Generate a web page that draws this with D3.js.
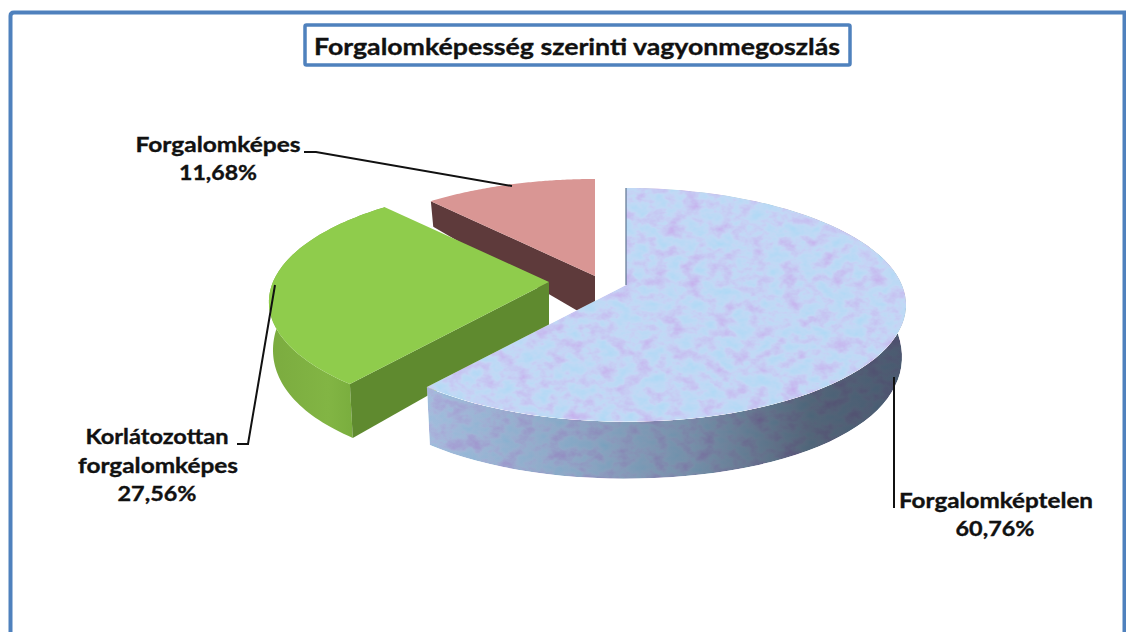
<!DOCTYPE html>
<html><head><meta charset="utf-8">
<script src="https://cdn.jsdelivr.net/npm/d3@7"></script>
<style>html,body{margin:0;padding:0;background:#fff;overflow:hidden}
text{font-family:Lato,"Open Sans",sans-serif;font-weight:700;fill:#111;stroke:#111;stroke-width:0.35px}</style>
</head><body><svg id="c" width="1126" height="632"></svg>
<script>
// ---- data ----
const categories = ["Forgalomképtelen","Korlátozottan forgalomképes","Forgalomképes"];
const values = [60.76,27.56,11.68];
const titleText = "Forgalomképesség szerinti vagyonmegoszlás";

// ---- layout ----
const centers = [[626,285],[549,282],[595,276]];
const depths = [49,45,45];
const R = 276, Ry = 113.5, k = 0.17;   // top disc
const Rb = 272, Ryb = 134, kb = 0.074; // bottom disc
const blue = "#4f81bd";

const svg = d3.select("#c");
const defs = svg.append("defs");

const f = defs.append("filter").attr("id","mottle")
  .attr("x","0").attr("y","0").attr("width","1").attr("height","1")
  .attr("color-interpolation-filters","sRGB");
f.append("feTurbulence").attr("type","fractalNoise").attr("baseFrequency","0.06 0.08")
  .attr("numOctaves",4).attr("seed",7).attr("result","n");
f.append("feColorMatrix").attr("in","n").attr("type","matrix")
  .attr("values","0.28 0 0 0 0.85  -0.4 0 0 0 1.18  -0.08 0 0 0 1.04  0 0 0 0 1").attr("result","tint");
f.append("feBlend").attr("in","SourceGraphic").attr("in2","tint").attr("mode","multiply").attr("result","b");
f.append("feComposite").attr("in","b").attr("in2","SourceAlpha").attr("operator","in");

function grad(id,stops){
  const g = defs.append("linearGradient").attr("id",id);
  stops.forEach(s=>g.append("stop").attr("offset",s[0]).attr("stop-color",s[1]));
}
grad("blueSide",[[0,"#a8bcdc"],[0.3,"#92a8c6"],[0.55,"#7a8fa9"],[0.8,"#566579"],[1,"#4d5a70"]]);
grad("greenSide",[[0,"#7bab3f"],[0.5,"#82b544"],[1,"#6ea335"]]);

const arcs = d3.pie().sort(null).value(d=>d)(values);
const line = d3.line();
const topPt = (c,a)=>{const u=Math.sin(a),v=-Math.cos(a),s=1/(1-k*v);return [c[0]+u*R*s,c[1]+v*Ry*s];};
const botPt = (c,a,dp)=>{const u=Math.sin(a),v=-Math.cos(a),s=1/(1-k*v),t=1/(1-kb*v);return [c[0]+u*Rb*s,c[1]+dp+v*Ryb*t];};
const sample = (a0,a1)=>d3.range(0,81).map(i=>a0+(a1-a0)*i/80);

function drawSlice(i,topFill,sideFill,wallFill,filter){
  const d=arcs[i], c=centers[i], dp=depths[i], as=sample(d.startAngle,d.endAngle);
  const g=svg.append("g").datum(d);
  if(sideFill){
    const pts=as.map(a=>topPt(c,a)).concat(as.slice().reverse().map(a=>botPt(c,a,dp)));
    g.append("path").attr("d",line(pts)+"Z").attr("fill",sideFill).attr("filter",filter||null);
  }
  if(wallFill){
    const a=d.startAngle;
    g.append("path").attr("d",line([c,topPt(c,a),botPt(c,a,dp),[c[0],c[1]+dp]])+"Z").attr("fill",wallFill);
  }
  g.append("path").attr("d",line([c].concat(as.map(a=>topPt(c,a))))+"Z").attr("fill",topFill).attr("filter",filter||null);
}
drawSlice(2,"#d99694",null,"#5e3a3b");
drawSlice(1,"#8fcc4c","url(#greenSide)","#5f8a2f");
drawSlice(0,"#c6d9f5","url(#blueSide)",null,"url(#mottle)");
// thin shadowed edge of the main slice
svg.append("path").attr("d",line([topPt(centers[0],0),centers[0]])).attr("stroke","#5d7390").attr("stroke-width",1.2).attr("fill","none");

// frame
svg.append("path").attr("d","M1124.5,632V12.5H14Q10.5,12.5 10.5,16V632").attr("fill","none").attr("stroke",blue).attr("stroke-width",4);
svg.append("rect").attr("x",305).attr("y",25).attr("width",545).attr("height",40).attr("rx",1.5)
  .attr("fill","#fff").attr("stroke",blue).attr("stroke-width",3.5);

// leaders
const leaders=[[[304,152],[316,152],[512,186]],[[237,444],[248,444],[275,285]],[[894,377],[894,508]]];
svg.selectAll("path.leader").data(leaders).join("path").attr("class","leader")
  .attr("d",d=>line(d)).attr("fill","none").attr("stroke","#111").attr("stroke-width",2);

// text
const labels=[
 [titleText,577,55,526,23],
 ["Forgalomképes",218,152,165,20.5],
 ["11,68%",218,180,78,20.5],
 ["Korlátozottan",157,444,143,20.5],
 ["forgalomképes",158,473,160,20.5],
 ["27,56%",157,501,79,20.5],
 ["Forgalomképtelen",996,508,194,20.5],
 ["60,76%",995,536,79,20.5]];
svg.selectAll("text").data(labels).join("text")
  .attr("x",d=>d[1]-d[3]/2).attr("y",d=>d[2]).attr("font-size",d=>d[4])
  .attr("textLength",d=>d[3]).attr("lengthAdjust","spacingAndGlyphs").text(d=>d[0]);
</script></body></html>
